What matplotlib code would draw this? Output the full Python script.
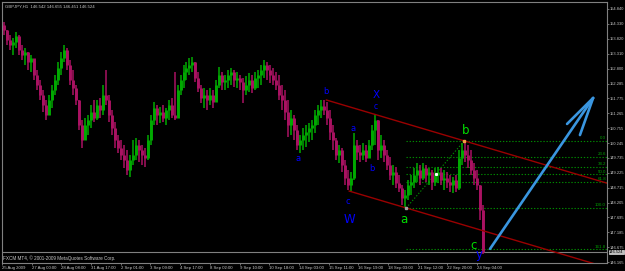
import matplotlib
matplotlib.use('Agg')
import matplotlib.pyplot as plt
import numpy as np

plt.rcParams['font.family'] = ['Liberation Sans', 'DejaVu Sans']

# GBPJPY H1 bars, grouped
first_open = 154.30
highs = [154.39, 154.12, 153.95, 153.85, 154.05, 153.95, 153.61, 153.50, 153.37, 153.26,
         153.02, 152.75, 152.41, 152.06, 151.72, 151.89, 152.24, 152.58, 153.02, 153.37,
         153.61, 153.50, 153.09, 152.75, 152.24, 151.72, 151.04, 151.10, 151.21, 151.55,
         151.72, 151.72, 151.79, 152.24, 152.75, 151.89, 151.38, 150.97, 150.52, 150.35,
         150.18, 150.01, 149.84, 150.35, 150.42, 150.35, 150.18, 150.08, 150.52, 151.21,
         151.65, 151.55, 151.48, 151.55, 151.45, 151.72, 151.79, 152.68, 152.24, 152.58,
         152.92, 153.02, 153.16, 153.20, 153.02, 152.68, 152.24, 152.13, 152.06, 152.13,
         152.06, 152.41, 152.85, 152.68, 152.58, 152.75, 152.82, 152.75, 152.68, 152.58,
         152.47, 152.54, 152.65, 152.58, 152.68, 152.75, 152.92, 153.09, 153.02, 152.92,
         152.82, 152.68, 152.58, 152.24, 152.06, 151.72, 151.38, 151.21, 150.86, 150.52,
         150.76, 150.86, 150.93, 151.04, 151.38, 151.55, 151.72, 151.72, 151.65, 151.38,
         150.86, 150.42, 150.18, 150.08, 149.66, 149.32, 149.25, 150.59, 150.35, 150.18,
         150.25, 150.18, 150.35, 150.86, 151.21, 151.04, 150.52, 150.35, 150.01, 149.77,
         149.49, 149.43, 149.15, 148.81, 148.64, 148.98, 149.15, 149.39, 149.56, 149.49,
         149.56, 149.49, 149.39, 149.32, 149.39, 149.43, 149.39, 149.32, 149.25, 149.15,
         149.08, 149.15, 150.01, 150.25, 150.32, 150.18, 150.01, 149.56, 149.32, 148.81,
         148.12]
lows = [153.95, 153.61, 153.43, 153.26, 153.50, 153.26, 153.09, 152.92, 152.75, 152.68,
        152.41, 152.06, 151.72, 151.31, 151.04, 151.21, 151.45, 151.89, 152.24, 152.58,
        153.02, 152.75, 152.24, 151.89, 151.55, 150.69, 150.08, 150.35, 150.52, 150.76,
        150.97, 151.04, 151.10, 151.21, 151.55, 150.97, 150.52, 150.08, 149.90, 149.66,
        149.39, 149.15, 149.08, 149.49, 149.66, 149.60, 149.49, 149.43, 149.66, 150.18,
        150.86, 150.86, 150.93, 150.97, 150.86, 151.04, 151.10, 151.04, 151.38, 151.89,
        152.13, 152.41, 152.58, 152.68, 152.34, 151.99, 151.62, 151.45, 151.38, 151.55,
        151.45, 151.72, 152.13, 152.06, 152.06, 152.13, 152.24, 152.17, 152.13, 152.06,
        151.62, 151.89, 151.99, 151.96, 152.06, 152.13, 152.24, 152.47, 152.41, 152.30,
        152.24, 152.06, 151.72, 151.38, 151.04, 150.45, 150.52, 150.35, 150.01, 149.90,
        150.01, 150.11, 150.28, 150.35, 150.59, 150.86, 151.10, 151.21, 150.86, 150.35,
        150.01, 149.66, 149.56, 149.25, 148.81, 148.64, 148.60, 148.98, 149.66, 149.60,
        149.66, 149.60, 149.73, 150.01, 150.18, 149.66, 149.73, 149.60, 149.32, 148.98,
        148.81, 148.71, 148.57, 148.12, 148.02, 148.29, 148.47, 148.71, 148.91, 148.81,
        148.98, 148.91, 148.81, 148.64, 148.77, 148.88, 148.81, 148.64, 148.71, 148.57,
        148.53, 148.57, 148.64, 149.49, 149.60, 149.39, 149.15, 148.81, 148.64, 147.61,
        146.44]
closes = [154.12, 153.78, 153.61, 153.71, 153.91, 153.43, 153.26, 153.37, 153.02, 153.16,
          152.58, 152.24, 151.89, 151.55, 151.21, 151.72, 152.06, 152.41, 152.82, 153.16,
          153.43, 152.92, 152.41, 152.13, 151.72, 150.86, 150.35, 150.86, 151.04, 151.31,
          151.10, 151.55, 151.38, 151.89, 151.72, 151.21, 150.76, 150.35, 150.08, 149.84,
          149.66, 149.32, 149.66, 149.84, 150.18, 150.01, 149.84, 149.73, 150.35, 151.04,
          151.45, 151.21, 151.31, 151.10, 151.38, 151.55, 151.21, 151.10, 152.06, 152.41,
          152.68, 152.82, 152.92, 153.02, 152.47, 152.13, 151.79, 151.89, 151.72, 151.89,
          151.65, 152.24, 152.58, 152.34, 152.41, 152.58, 152.68, 152.41, 152.47, 152.34,
          152.06, 152.24, 152.41, 152.13, 152.47, 152.58, 152.75, 152.92, 152.75, 152.58,
          152.41, 152.24, 151.89, 151.72, 151.31, 150.86, 151.10, 150.69, 150.18, 150.35,
          150.52, 150.62, 150.76, 150.86, 151.21, 151.38, 151.52, 151.38, 151.10, 150.62,
          150.35, 149.84, 150.01, 149.49, 149.05, 148.81, 149.05, 150.18, 149.94, 149.84,
          150.01, 149.73, 150.18, 150.69, 151.04, 150.01, 150.18, 149.84, 149.49, 149.15,
          149.25, 148.88, 148.71, 148.36, 148.47, 148.81, 148.91, 149.15, 149.32, 149.05,
          149.39, 149.15, 149.25, 148.91, 149.15, 149.25, 148.98, 149.05, 148.91, 148.81,
          148.98, 148.71, 149.73, 150.01, 149.84, 149.66, 149.32, 149.05, 148.81, 147.95,
          146.52]

price_labels = ['154.840', '154.330', '153.820', '153.310', '152.800', '152.285', '151.775',
                '151.265', '150.755', '150.245', '149.735', '149.225', '148.715', '148.205',
                '147.695', '147.185', '146.675', '146.165']
time_labels = ['25 Aug 2009', '27 Aug 00:00', '28 Aug 08:00', '31 Aug 17:00', '2 Sep 01:00',
               '3 Sep 09:00', '4 Sep 17:00', '8 Sep 02:00', '9 Sep 10:00', '10 Sep 18:00',
               '14 Sep 03:00', '15 Sep 11:00', '16 Sep 19:00', '18 Sep 03:00', '21 Sep 12:00',
               '22 Sep 20:00', '24 Sep 04:00']

bid = 146.524
fib_a = 148.02
fib_b = 150.32
fib_levels = [0.0, 23.6, 38.2, 50.0, 61.8, 100.0, 161.8]

BG = '#000000'
GRID = '#808080'
TXT = '#c8c8c8'
UP = '#00aa00'
DN = '#aa1262'
BLUE = '#0000ff'
LIME = '#00e000'

fig = plt.figure(figsize=(6.25, 2.71), dpi=100, facecolor=BG)
ax = fig.add_axes([2 / 625, 8 / 271, 605 / 625, 261 / 271], facecolor=BG)

n = len(closes)
x = np.arange(n)
opens = [first_open] + closes[:-1]
cols = [UP if c >= o else DN for o, c in zip(opens, closes)]
ax.vlines(x, lows, highs, colors=cols, lw=1.1, zorder=3)
body_lo = np.minimum(opens, closes)
body_hi = np.maximum(opens, closes)
ax.vlines(x, body_lo, body_hi, colors=cols, lw=2.1, zorder=3)

ax.set_xlim(-0.33, 201.33)
ax.set_ylim(146.135, 155.079)

# bid line
ax.axhline(bid, color='#808080', lw=0.8, zorder=2)

# channel (red)
slope = (150.32 - 151.72) / (153.7 - 107.7)
xe = 201.33
ax.plot([107.7, xe], [151.72, 151.72 + slope * (xe - 107.7)], color='#9a0000', lw=1.0, zorder=4)
ax.plot([115.3, xe], [148.60, 148.60 + slope * (xe - 115.3)], color='#9a0000', lw=1.0, zorder=4)

# fibo
for lv in fib_levels:
    p = fib_b - lv / 100 * (fib_b - fib_a)
    ax.plot([134.3, xe], [p, p], color='#008a00', lw=0.8, ls=(0, (1.2, 1.6)), zorder=2)
    ax.text(201.0, p + 0.03, '%.1f' % lv, color='#00a000', fontsize=3.2,
            ha='right', va='bottom', zorder=5)
ax.plot([134.3, 153.7], [fib_a, fib_b], color='#008a00', lw=0.8, ls=(0, (1.2, 1.6)), zorder=2)
ax.plot([134.3], [fib_a], marker='s', ms=1.8, color='#a0a0a0', zorder=6)
ax.plot([153.7], [fib_b], marker='s', ms=1.8, color='#f0a040', zorder=6)
ax.plot([144.3], [149.18], marker='s', ms=1.2, color='#ffffff', zorder=6)

# wave labels
waves = [('b', 107.7, 152.02, BLUE, 6), ('a', 98.3, 149.73, BLUE, 6),
         ('c', 115.0, 148.23, BLUE, 6), ('W', 115.3, 147.61, BLUE, 8.5),
         ('a', 116.7, 150.73, BLUE, 6), ('b', 123.0, 149.36, BLUE, 6),
         ('c', 124.0, 151.49, BLUE, 5.5), ('X', 124.3, 151.90, BLUE, 7.5),
         ('y', 158.7, 146.44, BLUE, 8.5),
         ('a', 133.7, 147.64, LIME, 8.5), ('b', 154.3, 150.66, LIME, 8.5),
         ('c', 156.7, 146.75, LIME, 8.5)]
for t, wx, wy, c, s in waves:
    ax.text(wx, wy, t, color=c, fontsize=s, ha='center', va='center', zorder=7,
            family='DejaVu Sans')

# blue arrow
ARW = '#3a96e0'
tip = (196.7, 151.79)
ax.plot([162.3, tip[0]], [146.62, tip[1]], color=ARW, lw=1.9, solid_capstyle='round', zorder=8)
ax.plot([188.0, tip[0]], [150.90, tip[1]], color=ARW, lw=1.9, solid_capstyle='round', zorder=8)
ax.plot([192.3, tip[0]], [150.52, tip[1]], color=ARW, lw=1.9, solid_capstyle='round', zorder=8)

# axes styling
for sp in ax.spines.values():
    sp.set_color(GRID)
    sp.set_linewidth(0.8)
ax.yaxis.tick_right()
ax.set_yticks([float(v) for v in price_labels], price_labels)
tick_x = -0.57 + 9.91 * np.arange(len(time_labels))
ax.set_xticks(tick_x, time_labels)
for lab in ax.get_xticklabels():
    lab.set_horizontalalignment('left')
ax.tick_params(axis='both', colors=GRID, labelcolor=TXT, labelsize=3.1, length=1.5,
               width=0.6, pad=0.6)
ax.tick_params(axis='y', labelsize=2.9)

fig.text(5 / 625, 1 - 7 / 271, 'GBPJPY,H1  146.542 146.655 146.451 146.524', color=TXT,
         fontsize=3.1, ha='left', va='center')
fig.text(3 / 625, 1 - 258 / 271, 'FXCM MT4, \u00a9 2001-2009 MetaQuotes Software Corp.',
         color=TXT, fontsize=3.3, ha='left', va='center')
fig.text(609 / 625, 1 - 252 / 271, '146.524', color='#000000', fontsize=2.9, ha='left',
         va='center', bbox=dict(boxstyle='square,pad=0.12', fc='#c0c0c0', ec='#ffffff', lw=0.4))

fig.savefig('out.png', dpi=100, facecolor=BG)
